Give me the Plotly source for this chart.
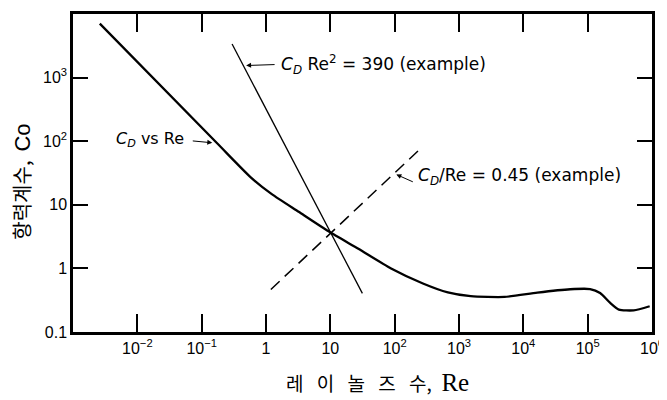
import plotly.graph_objects as go

# ---- data ----
re_curve = [0.00261, 0.174, 0.585, 1.23, 3.22, 9.37, 27.3, 88, 275, 671, 1520,
            5100, 16500, 53500, 109000, 156000, 222000, 306000, 521000, 920000]
cd_curve = [7070, 92.7, 26.8, 14.7, 7.76, 3.83, 2.03, 1.0, 0.58, 0.42, 0.366,
            0.356, 0.417, 0.47, 0.473, 0.41, 0.289, 0.225, 0.219, 0.254]

re_line390 = [0.297, 31.5]
cd_line390 = [3370, 0.405]

re_line045 = [1.19, 257]
cd_line045 = [0.467, 77.8]

x_tickvals = [1e-2, 1e-1, 1, 10, 1e2, 1e3, 1e4, 1e5, 1e6]
x_ticktext = ["10<sup>−2</sup>", "10<sup>−1</sup>", "1", "10", "10<sup>2</sup>",
              "10<sup>3</sup>", "10<sup>4</sup>", "10<sup>5</sup>", "10<sup>6</sup>"]
y_tickvals = [0.1, 1, 10, 100, 1000]
y_ticktext = ["0.1", "1", "10", "10<sup>2</sup>", "10<sup>3</sup>"]

# ---- figure ----
fig = go.Figure()
fig.add_trace(go.Scatter(x=re_curve, y=cd_curve, mode="lines",
                         line=dict(color="black", width=2.3, shape="spline", smoothing=0.6),
                         hoverinfo="skip"))
fig.add_trace(go.Scatter(x=re_line390, y=cd_line390, mode="lines",
                         line=dict(color="black", width=1.3), hoverinfo="skip"))
fig.add_trace(go.Scatter(x=re_line045, y=cd_line045, mode="lines",
                         line=dict(color="black", width=1.5, dash="12px,7px"), hoverinfo="skip"))

# page body has an 8px margin, so the figure is drawn 8px smaller / shifted
OFF = 8
L, R, T, B = 73, 655, 11, 332
W, H = 667 - OFF, 400 - OFF


def px(xp):
    return (xp - L) / (R - L)


def py(yp):
    return (B - yp) / (B - T)


ann_font = dict(family="DejaVu Sans, Arial, sans-serif", size=17, color="black")
gap = "\u2002\u2009"
annotations = [
    dict(text="<i>C<sub>D</sub></i> Re<sup>2</sup> = 390 (example)", x=px(280), y=py(62),
         xanchor="left", yanchor="middle", showarrow=False, font=ann_font),
    dict(text="", x=px(247), y=py(63), ax=30, ay=-1, showarrow=True, arrowhead=2,
         arrowsize=1, arrowwidth=1, arrowcolor="black"),
    dict(text="<i>C<sub>D</sub></i> vs Re", x=px(114), y=py(138),
         xanchor="left", yanchor="middle", showarrow=False,
         font=dict(family="DejaVu Sans, Arial, sans-serif", size=16, color="black")),
    dict(text="", x=px(213), y=py(141), ax=-21, ay=-2, showarrow=True, arrowhead=2,
         arrowsize=1, arrowwidth=1, arrowcolor="black"),
    dict(text="<i>C<sub>D</sub></i>/Re = 0.45 (example)", x=px(418), y=py(175),
         xanchor="left", yanchor="middle", showarrow=False, font=ann_font),
    dict(text="", x=px(398), y=py(173), ax=18, ay=8, showarrow=True, arrowhead=2,
         arrowsize=1, arrowwidth=1, arrowcolor="black"),
    # axis titles
    dict(text="항력계수,  <span style='font-family:Arial;font-size:22px'>Co</span>", x=px(21), y=py(180),
         xanchor="center", yanchor="middle", textangle=-90, showarrow=False,
         font=dict(family="Noto Sans CJK KR, sans-serif", size=20, color="black")),
    dict(text="레" + gap + "이" + gap + "놀" + gap + "즈" + gap + "수,\u2002<span style='font-family:Liberation Serif;font-size:25px'>Re</span>",
         x=px(379), y=py(383), xanchor="center", yanchor="middle", showarrow=False,
         font=dict(family="Noto Sans CJK KR, sans-serif", size=19, color="black")),
]
for a in annotations:
    a.setdefault("xref", "paper")
    a.setdefault("yref", "paper")

fig.update_layout(width=W, height=H,
                  margin=dict(l=L - OFF, r=667 - R, t=T - OFF, b=400 - B),
                  plot_bgcolor="white", paper_bgcolor="white", showlegend=False,
                  annotations=annotations)

axis_common = dict(type="log", ticks="inside", tickwidth=2, tickcolor="black",
                   showline=True, linewidth=2.5, linecolor="black", mirror="ticks",
                   showgrid=False, zeroline=False, ticklabeloverflow="allow",
                   tickfont=dict(family="Arial, sans-serif", size=16, color="black"))
fig.update_xaxes(range=[-3, 6], tickvals=x_tickvals, ticktext=x_ticktext, ticklen=18,
                 **axis_common)
fig.update_yaxes(range=[-1, 4], tickvals=y_tickvals, ticktext=y_ticktext, ticklen=15,
                 **axis_common)

fig.write_html("out.html")
